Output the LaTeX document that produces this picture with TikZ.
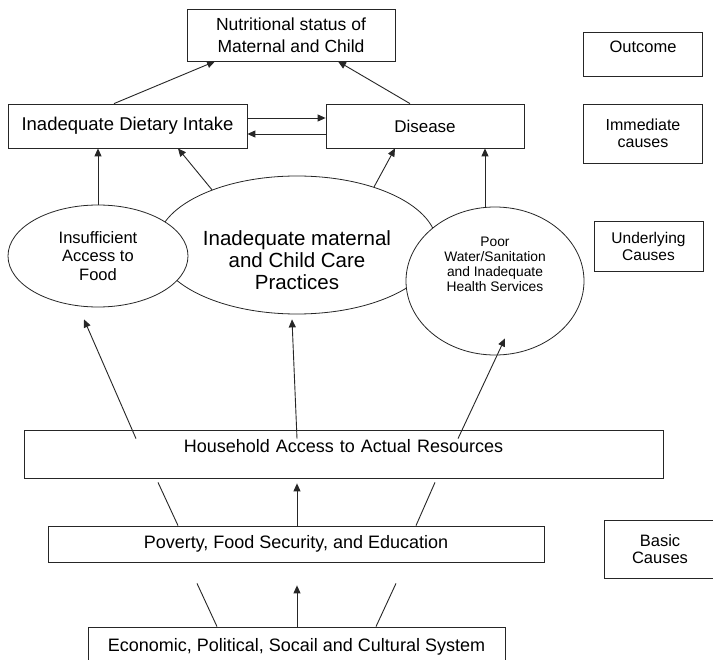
\documentclass[tikz,border=0pt]{standalone}
\usepackage{fontspec}
\setmainfont{Liberation Sans}
\usetikzlibrary{shapes.geometric,arrows.meta}
\newcommand\myfs[2]{\fontsize{#1}{#2}\selectfont}
\begin{document}
\begin{tikzpicture}[x=1pt,y=-1pt,
  box/.style={draw=black!85, line width=0.8pt, fill=white, inner sep=0pt, align=center},
  oval/.style={ellipse, draw=black!85, line width=0.8pt, fill=white, inner sep=0pt, align=center},
  plain/.style={inner sep=0pt, align=center},
  arr/.style={draw=black!85, line width=0.9pt, -{Triangle[length=8pt,width=7pt]}},
  ln/.style={draw=black!85, line width=0.9pt}]
\fill[white] (0,0) rectangle (713,660);
\clip (0,0) rectangle (713,660);
\useasboundingbox (0,0) rectangle (713,660);

% boxes
\node[box, minimum width=208pt, minimum height=52pt, font=\myfs{17.5}{22}] (nut) at (291,35) {Nutritional status of\\Maternal and Child};
\node[box, minimum width=119pt, text height=21pt, text depth=23pt, text width=119pt, font=\myfs{16.5}{17}] (outc) at (643,54) {Outcome};
\node[box, minimum width=239pt, minimum height=44pt, font=\myfs{18.5}{20}] (idi) at (127.5,126) {Inadequate Dietary Intake};
\node[box, minimum width=198pt, minimum height=44pt, font=\myfs{17}{20}] (dis) at (425,126) {Disease};
\node[box, minimum width=119pt, minimum height=59pt, font=\myfs{16}{17}] (imm) at (643,133.5) {Immediate\\causes};
\node[box, minimum width=109pt, minimum height=50pt, font=\myfs{15.5}{17}] (under) at (648.5,246) {Underlying\\Causes};

% ovals
\node[oval, minimum width=280pt, minimum height=138pt] (care) at (297,245) {};
\node[plain, font=\myfs{20.5}{22}] (caretext) at (297,260) {Inadequate maternal\\and Child Care\\Practices};
\node[oval, minimum width=180pt, minimum height=102pt, font=\myfs{16.5}{18.5}] (food) at (98,256) {Insufficient\\Access to\\Food};
\node[oval, minimum width=178pt, minimum height=148pt] (water) at (495,281) {};
\node[plain, font=\myfs{13.8}{15}] (watertext) at (495,264) {Poor\\Water/Sanitation\\and Inadequate\\Health Services};

% lower boxes
\node[box, minimum width=639pt, text width=639pt, text height=23pt, text depth=25pt, font=\myfs{18}{20}] (house) at (343.5,454) {Household Access to Actual Resources};
\node[box, minimum width=496pt, minimum height=36pt, font=\myfs{18}{20}] (pov) at (296,544) {Poverty, Food Security, and Education};
\node[box, minimum width=112pt, minimum height=58pt, font=\myfs{16.5}{17}] (basic) at (660,549) {Basic\\Causes};
\node[box, minimum width=417pt, minimum height=40pt, font=\myfs{18}{20}] (eco) at (296.5,647) {Economic, Political, Socail and Cultural System};

% top connectors
\draw[arr] ([xshift=-13.5pt]idi.north) -- ([xshift=-76pt]nut.south);
\draw[arr] ([xshift=-15pt]dis.north) -- ([xshift=47pt]nut.south);
\draw[arr] ([yshift=8pt]idi.east) -- ([yshift=8pt]dis.west);
\draw[arr] ([yshift=-8pt]dis.west) -- ([yshift=-8pt]idi.east);
\draw[arr] (food.north) -- (food.north |- idi.south);
\draw[arr] (care.147) -- ([xshift=50.5pt]idi.south);
\draw[arr] (care.37) -- ([xshift=-30pt]dis.south);
\draw[arr] ([xshift=-10pt]water.north) -- ([xshift=60pt]dis.south);

% household to causes
\draw[arr] ([xshift=-207.5pt,yshift=-9pt]house.north) -- ([xshift=-14pt,yshift=-12pt]food.south);
\draw[arr] ([xshift=-46.5pt,yshift=-9pt]house.north) -- ([xshift=-5pt,yshift=-5pt]care.south);
\draw[arr] ([xshift=114.5pt,yshift=-9pt]house.north) -- ([xshift=10pt,yshift=17pt]water.south);

% poverty to household
\draw[ln] ([xshift=-118pt]pov.north) -- ([xshift=-185.5pt,yshift=-4pt]house.south);
\draw[arr] ([xshift=1pt]pov.north) -- ([xshift=-46.5pt,yshift=-5pt]house.south);
\draw[ln] ([xshift=120pt]pov.north) -- ([xshift=91.5pt,yshift=-4pt]house.south);

% economic to poverty
\draw[ln] ([xshift=-79.5pt]eco.north) -- ([xshift=-99pt,yshift=-21pt]pov.south);
\draw[arr] ([xshift=0.5pt]eco.north) -- ([xshift=1pt,yshift=-23pt]pov.south);
\draw[ln] ([xshift=79.5pt]eco.north) -- ([xshift=100pt,yshift=-21pt]pov.south);
\end{tikzpicture}
\end{document}
